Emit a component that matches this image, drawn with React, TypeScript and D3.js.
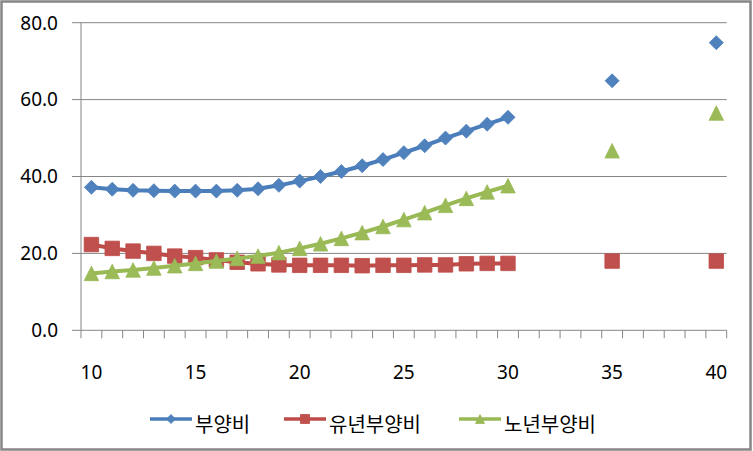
import React from "react";
import * as d3 from "d3";

const years = d3.range(10, 41);
const total = [37.2, 36.7, 36.4, 36.3, 36.2, 36.2, 36.2, 36.4, 36.8, 37.7, 38.8, 40.0, 41.3, 42.8, 44.4, 46.2, 48.0, 50.0, 51.8, 53.6, 55.4, null, null, null, null, 64.9, null, null, null, null, 74.8];
const youth = [22.3, 21.3, 20.6, 20.0, 19.3, 18.9, 18.3, 17.7, 17.3, 17.0, 16.9, 16.9, 16.9, 16.8, 16.9, 16.9, 17.0, 17.0, 17.3, 17.4, 17.4, null, null, null, null, 18.0, null, null, null, null, 18.0];
const elderly = [14.8, 15.3, 15.7, 16.2, 16.8, 17.4, 18.0, 18.7, 19.3, 20.2, 21.3, 22.5, 23.9, 25.4, 27.0, 28.8, 30.6, 32.5, 34.3, 36.0, 37.6, null, null, null, null, 46.7, null, null, null, null, 56.5];
const seriesNames = ["부양비", "유년부양비", "노년부양비"];
const yTicks = [0, 20, 40, 60, 80];
const xTickLabels = [10, 15, 20, 25, 30, 35, 40];

const lineColors = ["#4A7EBB", "#BE4B48", "#98B954"];
const fillColors = ["#4F81BD", "#C0504D", "#9BBB59"];
const markerKinds = ["diamond", "square", "triangle"];

const W = 753;
const H = 451;
const plot = { left: 81, right: 726.7, top: 22.7, bottom: 330.3 };

const x = d3.scaleLinear().domain([9.5, 40.5]).range([plot.left, plot.right]);
const y = d3.scaleLinear().domain([0, 80]).range([plot.bottom, plot.top]);

function markerPath(kind: string, s: number) {
  const h = s / 2;
  if (kind === "diamond") return `M0,${-h}L${h},0L0,${h}L${-h},0Z`;
  if (kind === "square") return `M${-h},${-h}H${h}V${h}H${-h}Z`;
  return `M0,${-h}L${h},${h}L${-h},${h}Z`;
}

export default function App() {
  const all = [total, youth, elderly];
  const line = d3
    .line<[number, number | null]>()
    .defined((d) => d[1] != null)
    .x((d) => x(d[0]))
    .y((d) => y(d[1] as number));
  const boundaries = d3.range(9.5, 41, 1);
  const numFont = "'Noto Sans', 'DejaVu Sans', sans-serif";
  const krFont = "'Noto Sans CJK KR', sans-serif";
  const legendX = [150, 284, 459];
  const legendY = 419;

  return (
    <svg width={W} height={H} style={{ position: "absolute", left: 0, top: 0, background: "#fff" }}>
      <rect x={1.5} y={1.5} width={749} height={448} fill="#fff" stroke="#868686" strokeWidth={2.5} />
      {/* gridlines + y tick labels */}
      {yTicks.map((t) => (
        <g key={t}>
          <line x1={72} x2={plot.right} y1={y(t)} y2={y(t)} stroke="#868686" strokeWidth={1} />
          <text x={58} y={y(t)} dy="0.36em" textAnchor="end" fontFamily={numFont} fontSize={19} fill="#000">
            {d3.format(".1f")(t)}
          </text>
        </g>
      ))}
      {/* y axis */}
      <line x1={plot.left} x2={plot.left} y1={plot.top} y2={plot.bottom} stroke="#868686" strokeWidth={1} />
      {/* x ticks */}
      {boundaries.map((b) => (
        <line key={b} x1={x(b)} x2={x(b)} y1={plot.bottom} y2={plot.bottom + 8} stroke="#868686" strokeWidth={1} />
      ))}
      {xTickLabels.map((t) => (
        <text key={t} x={x(t)} y={379} textAnchor="middle" fontFamily={numFont} fontSize={19} fill="#000">
          {t}
        </text>
      ))}
      {/* series */}
      {all.map((vals, i) => {
        const pts = years.map((yr, j) => [yr, vals[j]] as [number, number | null]);
        return (
          <g key={i}>
            <path d={line(pts) || ""} fill="none" stroke={lineColors[i]} strokeWidth={4} strokeLinejoin="round" />
            {pts
              .filter((p) => p[1] != null)
              .map((p) => (
                <path
                  key={p[0]}
                  transform={`translate(${x(p[0])},${y(p[1] as number)})`}
                  d={markerPath(markerKinds[i], i === 0 ? 14 : 14.5)}
                  fill={fillColors[i]}
                  stroke={lineColors[i]}
                  strokeWidth={0.8}
                />
              ))}
          </g>
        );
      })}
      {/* legend */}
      {seriesNames.map((n, i) => (
        <g key={n}>
          <line x1={legendX[i]} x2={legendX[i] + 42} y1={legendY} y2={legendY} stroke={lineColors[i]} strokeWidth={3.5} />
          <path
            transform={`translate(${legendX[i] + 21},${legendY})`}
            d={markerPath(markerKinds[i], 9)}
            fill={fillColors[i]}
            stroke={lineColors[i]}
            strokeWidth={0.8}
          />
          <text x={legendX[i] + 45} y={423} dominantBaseline="central" fontFamily={krFont} fontSize={20} fill="#000">
            {n}
          </text>
        </g>
      ))}
    </svg>
  );
}
